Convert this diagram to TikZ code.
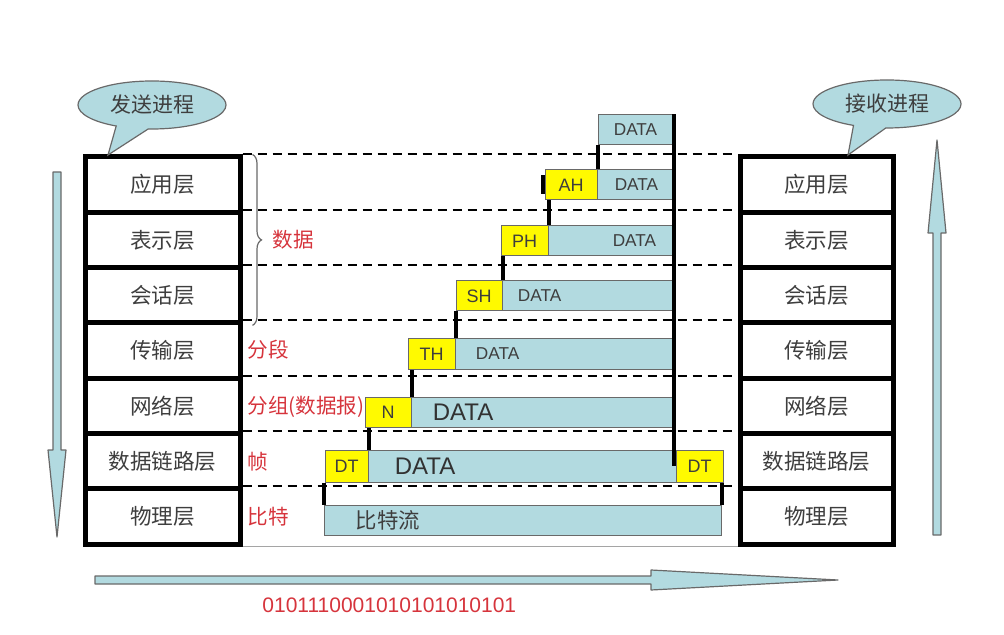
\documentclass[tikz,border=0pt]{standalone}
\usepackage{fontspec}
\setmainfont{Liberation Sans}
\newfontfamily\cjk{Noto Sans CJK SC}
\definecolor{osiblue}{RGB}{178, 218, 224}
\definecolor{osiyellow}{RGB}{255, 250, 0}
\definecolor{osired}{RGB}{214, 52, 60}
\definecolor{ositext}{RGB}{62, 62, 62}
\definecolor{osigray}{RGB}{105, 105, 105}
\usetikzlibrary{shapes.callouts, decorations.pathreplacing}

\begin{document}
\begin{tikzpicture}[x=0.5pt, y=-0.5pt,
  layer/.style={draw=black, line width=2.5pt, minimum width=77.5pt, minimum height=27.65pt, inner sep=0pt, text=ositext, font=\cjk\fontsize{10.8}{12}\selectfont},
  hdr/.style={draw=osigray, fill=osiyellow, line width=0.5pt, minimum height=15pt, inner sep=0pt, text=ositext, font=\fontsize{9}{10}\selectfont},
  pay/.style={draw=osigray, fill=osiblue, line width=0.5pt, minimum height=15pt, inner sep=0pt},
  dat/.style={inner sep=0pt, text=ositext, font=\fontsize{8.6}{10}\selectfont},
  bigdat/.style={inner sep=0pt, text=ositext!80!black, font=\fontsize{12}{14}\selectfont},
  tag/.style={anchor=west, inner sep=0pt, text=osired, font=\cjk\fontsize{10.3}{12}\selectfont},
  tick/.style={line width=2pt},
  bubble/.style={ellipse callout, callout pointer arc=26, draw=osigray, fill=osiblue, line width=0.6pt, minimum width=74pt, minimum height=24pt, inner sep=0pt, text=ositext, font=\cjk\fontsize{10.5}{12}\selectfont},
  bigarrow/.style={draw=osigray, fill=osiblue, line width=0.6pt, line join=round}]
\useasboundingbox (0,0) rectangle (1004,635);

% layer boxes
\foreach \lname [count=\i] in {应用层,表示层,会话层,传输层,网络层,数据链路层,物理层} {
  \node[layer] (L\i) at (162.5,{129.35+55.3*\i}) {\lname};
  \node[layer, minimum width=76.5pt] (R\i) at (816.5,{129.35+55.3*\i}) {\lname};
}
\foreach \i in {1,...,7} {
  \draw[dashed, line width=1pt, dash pattern=on 4.5pt off 3pt] (L\i.north east) -- (R\i.north west);
}
\draw[osigray!60, line width=0.6pt] (L7.south east) -- (R7.south west);

% brace and red labels
\draw[osigray, line width=0.6pt, decorate, decoration={brace, amplitude=4.5pt}] ([xshift=5pt]L1.north east) -- ([xshift=5pt]L3.south east);
\node[tag] (lbdata) at (272,240) {数据};
\node[tag] (lbseg) at (247,350) {分段};
\node[tag] (lbpkt) at (247,407) {分组(数据报)};
\node[tag] (lbfrm) at (247,462) {帧};
\node[tag] (lbbit) at (247,517) {比特};

% encapsulation stairs
\node[pay, minimum width=37.5pt] (d0) at (635.5,130) {};
\node[hdr, minimum width=26pt] (ah) at (571,185) {AH};
\node[pay, minimum width=38pt] (d1) at (635,185) {};
\node[hdr, minimum width=23.5pt] (ph) at (524.5,241) {PH};
\node[pay, minimum width=62.5pt] (d2) at (610.5,241) {};
\node[hdr, minimum width=23pt] (sh) at (479,296) {SH};
\node[pay, minimum width=85.5pt] (d3) at (587.5,296) {};
\node[hdr, minimum width=23.5pt] (th) at (431.5,354) {TH};
\node[pay, minimum width=109pt] (d4) at (564,354) {};
\node[hdr, minimum width=23pt] (nh) at (388,412) {N};
\node[pay, minimum width=131pt] (d5) at (542,412) {};
\node[hdr, minimum width=21.5pt, minimum height=16pt] (dt) at (346.5,466) {DT};
\node[pay, minimum width=154pt, minimum height=16pt] (d6) at (522,466) {};
\node[hdr, minimum width=23.5pt, minimum height=16pt] (dtr) at (699.5,466) {DT};
\node[pay, minimum width=198.5pt] (bit) at (522.5,520) {};

\node[dat] (t0) at (d0) {DATA};
\node[dat, anchor=east] (t1) at ([xshift=-7.5pt]d1.east) {DATA};
\node[dat, anchor=east] (t2) at ([xshift=-8.5pt]d2.east) {DATA};
\node[dat, anchor=west] (t3) at ([xshift=8pt]d3.west) {DATA};
\node[dat, anchor=west] (t4) at ([xshift=10.5pt]d4.west) {DATA};
\node[bigdat, anchor=west] (t5) at ([xshift=11pt]d5.west) {DATA};
\node[bigdat, anchor=west] (t6) at ([xshift=13.5pt]d6.west) {DATA};
\node[anchor=west, inner sep=0pt, text=ositext, font=\cjk\fontsize{10.7}{12}\selectfont] (t7) at ([xshift=16pt]bit.west) {比特流};

% ticks between the steps
\draw[tick] (d0.south west) -- (d0.south west |- d1.north);
\draw[tick] ([xshift=-1pt, yshift=-3pt]ah.north west) -- ([xshift=-1pt, yshift=3pt]ah.south west);
\draw[tick] (ph.north east) -- (ph.north east |- ah.south);
\draw[tick] (sh.north east) -- (sh.north east |- ph.south);
\draw[tick] (th.north east) -- (th.north east |- sh.south);
\draw[tick] (nh.north east) -- (nh.north east |- th.south);
\draw[tick] (dt.north east) -- (dt.north east |- nh.south);
\draw[tick] (bit.north west) -- (bit.north west |- dt.south);
\draw[tick] (bit.north east) -- (bit.north east |- dtr.south);
\draw[tick] (d0.north east) -- (d0.north east |- dtr.center);

% callouts
\node[bubble, callout absolute pointer={(108,155)}] (send) at (152,105) {发送进程};
\node[bubble, callout absolute pointer={(848,155)}] (recv) at (887,104) {接收进程};

% direction arrows
\draw[bigarrow] (53,172) -- (61,172) -- (61,450) -- (66,450) -- (57,537) -- (48,450) -- (53,450) -- cycle;
\draw[bigarrow] (933,535) -- (941,535) -- (941,233) -- (946,233) -- (937,140) -- (928,233) -- (933,233) -- cycle;
\draw[bigarrow] (95,576) -- (651,576) -- (651,570) -- (838,580) -- (651,590) -- (651,584) -- (95,584) -- cycle;
\node[anchor=west, inner sep=0pt, text=osired, font=\fontsize{10.5}{12}\selectfont] (bits) at (262,605) {0101110001010101010101};
\end{tikzpicture}
\end{document}
